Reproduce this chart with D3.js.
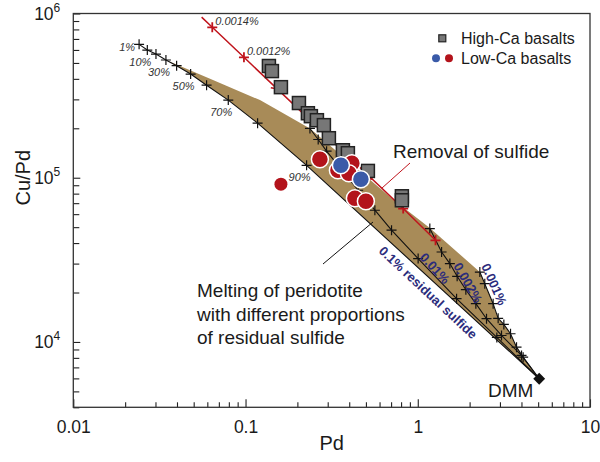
<!DOCTYPE html>
<html>
<head>
<meta charset="utf-8">
<script src="https://cdn.jsdelivr.net/npm/d3@7"></script>
<style>
  body { margin: 0; background: #fff; }
  svg { font-family: "Liberation Sans", Arial, Helvetica, sans-serif; }
</style>
</head>
<body>
<svg id="chart" width="600" height="462"></svg>
<script>
// axis ticks
const xTicks = [0.01, 0.1, 1, 10];
const xTickLabels = ['0.01', '0.1', '1', '10'];
const yTicks = [1e4, 1e5, 1e6];
const yTickExp = ['4', '5', '6'];

// high-Ca basalts (Pd, Cu/Pd)
const highCaPd   = [0.1367, 0.1423, 0.1605, 0.2042, 0.2302, 0.2396, 0.2597, 0.2851, 0.3048, 0.3675, 0.3929, 0.5133, 0.8087, 0.8087];
const highCaCuPd = [4.79e5, 4.46e5, 3.56e5, 2.85e5, 2.47e5, 2.37e5, 2.24e5, 2.09e5, 1.74e5, 1.47e5, 1.41e5, 1.10e5, 7.71e4, 7.29e4];

// low-Ca basalts
const lowRedPd    = [0.2703, 0.4143, 0.3438, 0.3980, 0.4315, 0.4998];
const lowRedCuPd  = [1.297e5, 1.226e5, 1.11e5, 1.065e5, 7.5e4, 7.19e4];
const lowBluePd   = [0.3579, 0.4675];
const lowBlueCuPd = [1.192e5, 9.79e4];
const lowOddPd    = [0.1605];
const lowOddCuPd  = [9.13e4];

// DMM source
const dmmPd = 5.07, dmmCuPd = 5970;

// melting curves, 0.1% residual sulfide (melt degree labels)
const melt01Pd   = [0.0241, 0.0269, 0.0302, 0.0345, 0.0398, 0.0480, 0.0594, 0.0794, 0.1175, 0.2262];
const melt01CuPd = [6.49e5, 5.99e5, 5.66e5, 5.21e5, 4.81e5, 4.28e5, 3.66e5, 2.97e5, 2.15e5, 1.19e5];
const melt01Lab  = ['1%', '10%', '', '30%', '', '50%', '', '70%', '', '90%'];

// 0.01%
const melt001Pd   = [0.2366, 0.2642, 0.2956, 0.3627, 0.4508, 0.5636, 0.7043, 1.005, 1.68, 2.878];
const melt001CuPd = [1.995e5, 1.709e5, 1.451e5, 1.111e5, 8.39e4, 6.34e4, 4.79e4, 3.22e4, 1.834e4, 1.065e4];

// 0.002%
const melt0002Pd   = [1.175, 1.375, 1.536, 1.693, 1.902, 2.174, 2.507, 3.064, 4.004];
const melt0002CuPd = [4.90e4, 3.53e4, 3.00e4, 2.51e4, 2.08e4, 1.71e4, 1.385e4, 1.095e4, 8275];

// 0.001%
const melt0001Pd   = [2.293, 2.45, 2.739, 2.929, 3.161, 3.456, 3.745, 4.091];
const melt0001CuPd = [2.665e4, 2.264e4, 1.71e4, 1.393e4, 1.278e4, 1.122e4, 9296, 8079];

// upper edge of the shaded field
const fieldPd   = [0.0345, 0.0647, 0.1213, 0.2366, 0.717, 1.175, 2.293];
const fieldCuPd = [5.21e5, 3.93e5, 2.97e5, 1.995e5, 7.39e4, 4.95e4, 2.665e4];

// removal of sulfide
const removalPd   = [1.268, 0.823, 0.0979, 0.0641, 0.0556];
const removalCuPd = [4.16e4, 6.49e4, 5.41e5, 8.24e5, 9.5e5];
const removalLab  = ['', '', '0.0012%', '0.0014%', ''];
const arrowPd     = [0.152, 0.54];
const arrowCuPd   = [3.48e5, 9.8e4];

const svg = d3.select('#chart');
const mLeft = 73.3, mRight = 590, mTop = 13.5, mBottom = 407.3;

const x = d3.scaleLog().domain([0.01, 10]).range([mLeft, mRight]);
const y = d3.scaleLog().domain([4000, 1e6]).range([mBottom, mTop]);

const zip = (a, b) => a.map((d, i) => [d, b[i]]);
const line = d3.line().x(d => x(d[0])).y(d => y(d[1]));
const cross = (d, s) => 'M' + (x(d[0]) - s) + ',' + y(d[1]) + 'h' + (2 * s) + 'M' + x(d[0]) + ',' + (y(d[1]) - s) + 'v' + (2 * s);

svg.append('defs').append('clipPath').attr('id', 'clip')
  .append('rect').attr('x', mLeft).attr('y', mTop).attr('width', mRight - mLeft).attr('height', mBottom - mTop);

const plot = svg.append('g').attr('clip-path', 'url(#clip)');

// shaded field
const c01 = zip(melt01Pd, melt01CuPd).filter(d => d[0] >= fieldPd[0]);
const field = zip(fieldPd, fieldCuPd)
  .concat(zip(melt0001Pd, melt0001CuPd).slice(1))
  .concat([[dmmPd, dmmCuPd]])
  .concat(c01.reverse());
plot.append('path')
  .attr('d', line(field) + 'Z')
  .attr('fill', '#a88b58');

// curves
const curves = [
  zip(melt01Pd, melt01CuPd),
  zip(melt001Pd, melt001CuPd),
  zip(melt0002Pd, melt0002CuPd),
  zip(melt0001Pd, melt0001CuPd)
];
curves.forEach(function (c) {
  plot.append('path')
    .attr('d', line(c.concat([[dmmPd, dmmCuPd]])))
    .attr('fill', 'none')
    .attr('stroke', '#111')
    .attr('stroke-width', 1.1);
  plot.selectAll(null)
    .data(c)
    .enter()
    .append('path')
    .attr('d', d => cross(d, 5))
    .attr('stroke', '#111')
    .attr('stroke-width', 1.2);
});

// melt degree labels
plot.selectAll(null)
  .data(zip(melt01Pd, melt01CuPd).map((d, i) => d.concat([melt01Lab[i], i])).filter(d => d[2]))
  .enter()
  .append('text')
  .attr('x', d => d[3] === 0 ? x(d[0]) - 4 : x(d[0]) - 7)
  .attr('y', d => d[3] === 0 ? y(d[1]) + 7 : y(d[1]) + 16)
  .attr('text-anchor', d => d[3] === 0 ? 'end' : 'middle')
  .attr('font-size', 11)
  .attr('font-style', 'italic')
  .attr('fill', '#333')
  .text(d => d[2]);

// removal of sulfide line
const rem = zip(removalPd, removalCuPd);
plot.append('path')
  .attr('d', line(rem))
  .attr('fill', 'none')
  .attr('stroke', '#c0141c')
  .attr('stroke-width', 1.5);
plot.selectAll(null)
  .data(rem.slice(0, 4))
  .enter()
  .append('path')
  .attr('d', d => cross(d, 5))
  .attr('stroke', '#c0141c')
  .attr('stroke-width', 1.8);
// small arrowheads along the red line
const ang = Math.atan2(y(removalCuPd[0]) - y(removalCuPd[2]), x(removalPd[0]) - x(removalPd[2])) * 180 / Math.PI;
plot.selectAll(null)
  .data(zip(arrowPd, arrowCuPd))
  .enter()
  .append('path')
  .attr('d', 'M-5,-3.5L0,0L-5,3.5')
  .attr('transform', d => 'translate(' + x(d[0]) + ',' + y(d[1]) + ') rotate(' + ang + ')')
  .attr('fill', 'none')
  .attr('stroke', '#c0141c')
  .attr('stroke-width', 1.5);
plot.selectAll(null)
  .data(rem.map((d, i) => d.concat([removalLab[i]])).filter(d => d[2]))
  .enter()
  .append('text')
  .attr('x', d => x(d[0]) + 3)
  .attr('y', d => y(d[1]) - 2)
  .attr('font-size', 11)
  .attr('font-style', 'italic')
  .attr('fill', '#333')
  .text(d => d[2]);

// high-Ca squares
plot.selectAll('rect.hi')
  .data(zip(highCaPd, highCaCuPd))
  .enter()
  .append('rect')
  .attr('class', 'hi')
  .attr('x', d => x(d[0]) - 6.5)
  .attr('y', d => y(d[1]) - 6.5)
  .attr('width', 13)
  .attr('height', 13)
  .attr('fill', '#777')
  .attr('stroke', '#222')
  .attr('stroke-width', 1.5);

// low-Ca circles
plot.selectAll('circle.red')
  .data(zip(lowRedPd, lowRedCuPd))
  .enter()
  .append('circle')
  .attr('cx', d => x(d[0]))
  .attr('cy', d => y(d[1]))
  .attr('r', 8.5)
  .attr('fill', '#b3131b')
  .attr('stroke', '#fff')
  .attr('stroke-width', 1.5);
plot.selectAll('circle.blue')
  .data(zip(lowBluePd, lowBlueCuPd))
  .enter()
  .append('circle')
  .attr('cx', d => x(d[0]))
  .attr('cy', d => y(d[1]))
  .attr('r', 8.5)
  .attr('fill', '#3a5aa8')
  .attr('stroke', '#fff')
  .attr('stroke-width', 1.5);
plot.selectAll('circle.odd')
  .data(zip(lowOddPd, lowOddCuPd))
  .enter()
  .append('circle')
  .attr('cx', d => x(d[0]))
  .attr('cy', d => y(d[1]))
  .attr('r', 6.5)
  .attr('fill', '#b3131b');

// DMM
svg.append('path')
  .attr('d', d3.symbol().type(d3.symbolDiamond2).size(90)())
  .attr('transform', 'translate(' + x(dmmPd) + ',' + y(dmmCuPd) + ')')
  .attr('fill', '#111');

// annotations
const ann = svg.append('g').attr('font-size', 19).attr('fill', '#1a1a1a');
ann.append('text').attr('x', 488).attr('y', 397).text('DMM');
ann.append('text').attr('x', 393).attr('y', 158).text('Removal of sulfide');
['Melting of peridotite', 'with different proportions', 'of residual sulfide'].forEach(function (t, i) {
  ann.append('text').attr('x', 197).attr('y', 297 + i * 23.5).text(t);
});
svg.append('line').attr('x1', 410).attr('y1', 163).attr('x2', 381.7).attr('y2', 188.3)
  .attr('stroke', '#c0141c').attr('stroke-width', 1);
svg.append('line').attr('x1', 323).attr('y1', 264).attr('x2', 373).attr('y2', 222)
  .attr('stroke', '#111').attr('stroke-width', 1);

const blue = svg.append('g').attr('font-size', 13).attr('font-weight', 'bold').attr('fill', '#2b2c7c');
[['0.1% residual sulfide', 378, 252, 43], ['0.01%', 419, 258, 47], ['0.002%', 453, 266, 60], ['0.001%', 481, 266, 66]]
  .forEach(function (t) {
    blue.append('text')
      .attr('transform', 'translate(' + t[1] + ',' + t[2] + ') rotate(' + t[3] + ')')
      .text(t[0]);
  });

// legend
const lg = svg.append('g').attr('font-size', 16).attr('fill', '#1a1a1a');
lg.append('rect').attr('x', 438.8).attr('y', 34.8).attr('width', 7).attr('height', 7)
  .attr('fill', '#777').attr('stroke', '#222').attr('stroke-width', 1.2);
lg.append('circle').attr('cx', 436).attr('cy', 58.3).attr('r', 4).attr('fill', '#3a5aa8');
lg.append('circle').attr('cx', 449).attr('cy', 58.3).attr('r', 4).attr('fill', '#b3131b');
lg.append('text').attr('x', 461).attr('y', 44).text('High-Ca basalts');
lg.append('text').attr('x', 461).attr('y', 63.5).text('Low-Ca basalts');

// axes
const xMinor = [];
const yMinor = [];
[0.01, 0.1, 1].forEach(d => { for (let k = 2; k <= 9; k++) xMinor.push(d * k); });
[1000, 1e4, 1e5].forEach(d => { for (let k = 2; k <= 9; k++) { const v = d * k; if (v >= 4000 && v < 1e6) yMinor.push(v); } });

svg.append('g')
  .attr('transform', 'translate(0,' + mBottom + ')')
  .call(d3.axisBottom(x).tickValues(xMinor).tickSize(-5).tickFormat(''))
  .call(g => g.select('.domain').remove());
const xa = svg.append('g')
  .attr('transform', 'translate(0,' + mBottom + ')')
  .call(d3.axisBottom(x).tickValues(xTicks).tickSize(-8).tickPadding(13).tickFormat((d, i) => xTickLabels[i]));
xa.select('.domain').remove();
xa.selectAll('text').attr('font-size', 17.5).attr('fill', '#1a1a1a');
xa.attr('font-family', null);

svg.append('g')
  .attr('transform', 'translate(' + mLeft + ',0)')
  .call(d3.axisLeft(y).tickValues(yMinor).tickSize(-6).tickFormat(''))
  .call(g => g.select('.domain').remove());
svg.append('g')
  .attr('transform', 'translate(' + mLeft + ',0)')
  .call(d3.axisLeft(y).tickValues(yTicks).tickSize(-7).tickFormat(''))
  .call(g => g.select('.domain').remove());
svg.selectAll('.tick line').attr('stroke', '#222').attr('stroke-width', 1.1);

const yl = svg.append('g').attr('fill', '#1a1a1a');
yTicks.forEach(function (v, i) {
  const t = yl.append('text')
    .attr('x', mLeft - 13)
    .attr('y', y(v) + 6.5)
    .attr('text-anchor', 'end')
    .attr('font-size', 17.5);
  t.append('tspan').text('10');
  t.append('tspan').attr('font-size', 12).attr('dy', -8).text(yTickExp[i]);
});

// frame
svg.append('rect')
  .attr('x', mLeft).attr('y', mTop)
  .attr('width', mRight - mLeft).attr('height', mBottom - mTop)
  .attr('fill', 'none').attr('stroke', '#333').attr('stroke-width', 1.3);

// axis titles
svg.append('text')
  .attr('x', (mLeft + mRight) / 2).attr('y', 450)
  .attr('text-anchor', 'middle').attr('font-size', 20).attr('fill', '#1a1a1a')
  .text('Pd');
svg.append('text')
  .attr('transform', 'translate(30,' + (y(1e5)) + ') rotate(-90)')
  .attr('text-anchor', 'middle').attr('font-size', 20).attr('fill', '#1a1a1a')
  .text('Cu/Pd');
</script>
</body>
</html>
